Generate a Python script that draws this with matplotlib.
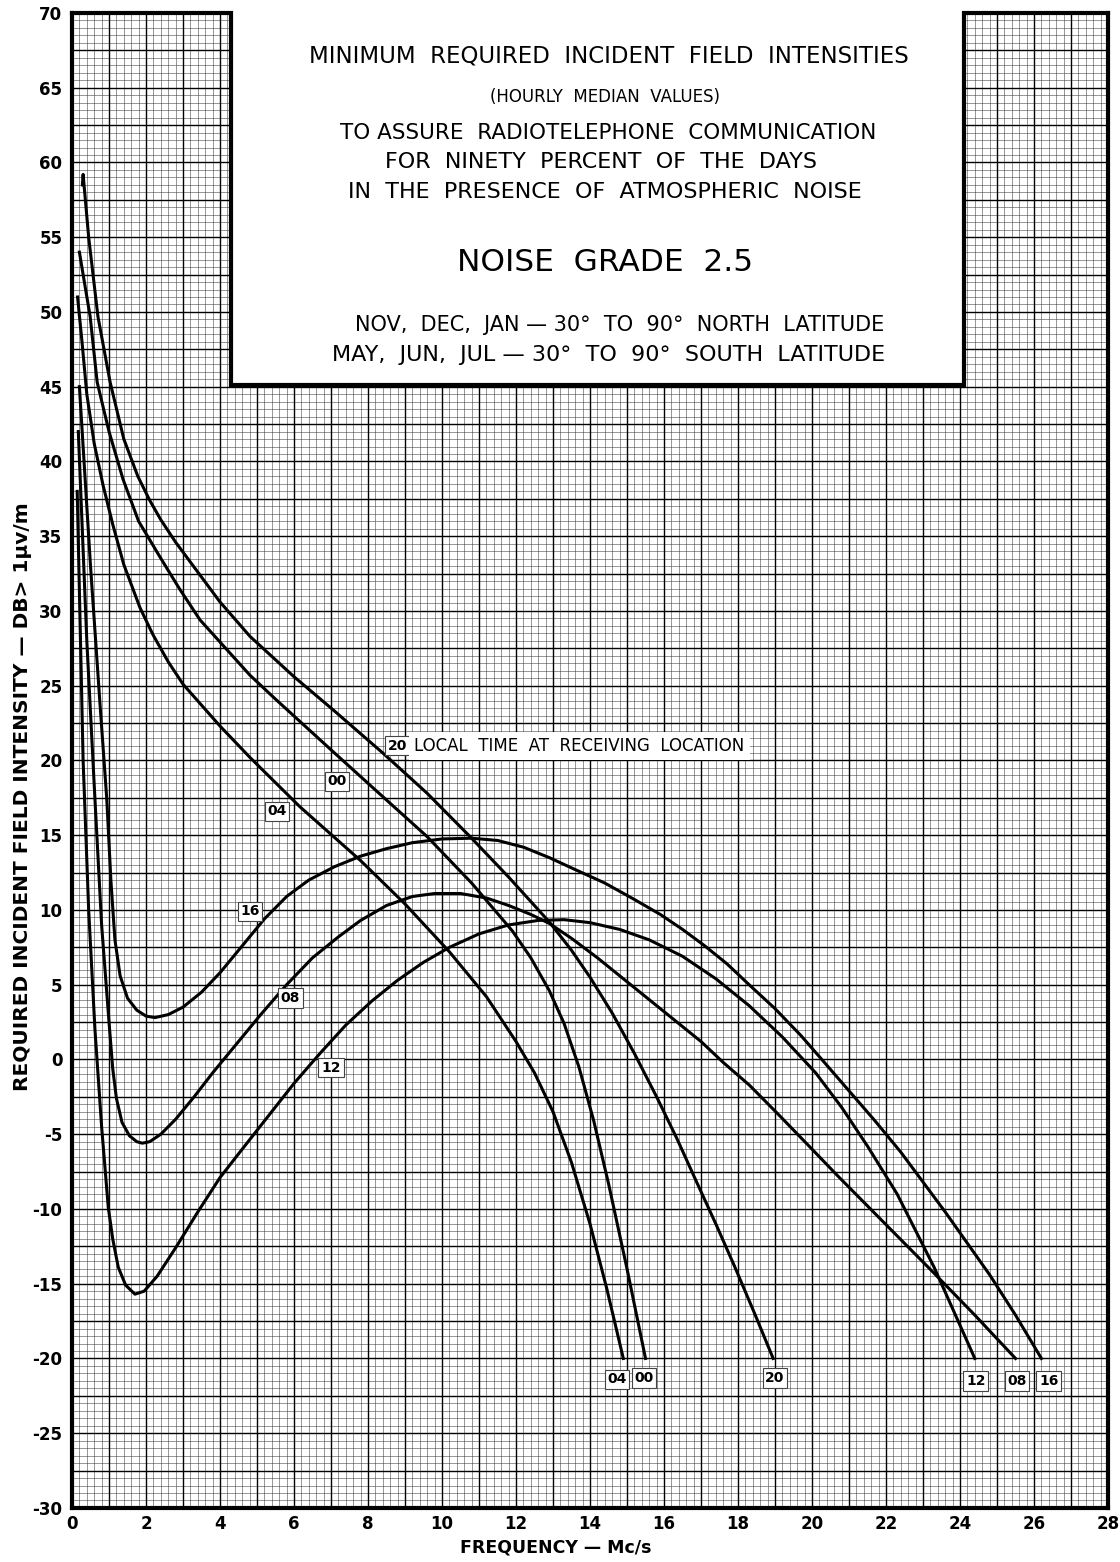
import matplotlib
matplotlib.use("Agg")
import matplotlib.pyplot as plt
from matplotlib.patches import Rectangle
import numpy as np

plt.rcParams["axes.unicode_minus"] = False

# Curve data: frequency (Mc/s) and field (dB > 1 uV/m), by local time
f_20 = [0.28, 0.3, 0.45, 0.7, 1.03, 1.4, 1.78, 2.1, 2.4, 2.8, 3.19, 4.0, 4.81, 6.0, 7.05, 8.4, 9.6, 10.76, 11.8, 12.9, 13.5, 14.0, 14.6, 15.2, 15.8, 16.35, 16.9, 17.4, 17.9, 18.45, 18.95]
e_20 = [58.5, 59.2, 55.0, 49.7, 45.3, 41.5, 39.0, 37.4, 36.1, 34.6, 33.3, 30.6, 28.3, 25.6, 23.4, 20.5, 17.8, 14.9, 12.2, 9.2, 7.3, 5.5, 3.1, 0.4, -2.5, -5.3, -8.3, -11.0, -13.8, -17.0, -20.0]

f_00 = [0.2, 0.3, 0.49, 0.68, 1.0, 1.38, 1.8, 2.38, 2.9, 3.46, 4.81, 5.5, 7.05, 8.3, 9.6, 10.8, 11.9, 12.4, 12.9, 13.3, 13.7, 14.1, 14.5, 15.0, 15.5]
e_00 = [54.0, 52.5, 49.7, 45.3, 42.0, 38.8, 36.0, 33.6, 31.5, 29.4, 25.7, 24.1, 20.6, 17.8, 14.9, 11.8, 8.6, 6.8, 4.6, 2.4, -0.5, -4.1, -8.3, -14.0, -20.0]

f_04 = [0.15, 0.27, 0.4, 0.6, 0.84, 1.1, 1.4, 1.84, 2.19, 2.6, 3.0, 4.0, 4.81, 6.16, 7.8, 9.0, 10.2, 11.2, 12.0, 12.5, 13.0, 13.5, 14.0, 14.45, 14.9]
e_04 = [51.0, 48.0, 44.5, 41.2, 38.4, 35.8, 33.1, 30.2, 28.4, 26.6, 25.1, 22.3, 20.2, 16.9, 13.3, 10.4, 7.2, 4.2, 1.2, -0.9, -3.5, -6.9, -11.0, -15.3, -20.0]

f_16 = [0.2, 0.5, 0.75, 0.94, 1.05, 1.16, 1.3, 1.5, 1.75, 2.0, 2.24, 2.6, 3.0, 3.5, 4.0, 4.6, 5.2, 5.8, 6.4, 7.1, 7.8, 8.5, 9.2, 10.0, 10.8, 11.5, 12.2, 12.9, 13.6, 14.4, 15.2, 15.9, 16.5, 17.1, 17.7, 18.3, 19.0, 19.7, 20.3, 21.0, 21.7, 22.4, 23.0, 23.6, 24.2, 24.8, 25.5, 26.2]
e_16 = [45.0, 33.0, 24.0, 17.4, 12.0, 8.0, 5.6, 4.1, 3.3, 2.9, 2.8, 3.0, 3.5, 4.5, 5.8, 7.6, 9.4, 10.9, 12.0, 12.9, 13.6, 14.1, 14.5, 14.75, 14.8, 14.65, 14.2, 13.5, 12.7, 11.8, 10.7, 9.7, 8.7, 7.6, 6.4, 5.0, 3.4, 1.6, -0.1, -2.1, -4.1, -6.2, -8.2, -10.2, -12.3, -14.4, -17.1, -20.0]

f_08 = [0.17, 0.4, 0.62, 0.8, 1.0, 1.1, 1.2, 1.35, 1.55, 1.75, 1.9, 2.1, 2.4, 2.8, 3.3, 3.8, 4.4, 5.1, 5.8, 6.5, 7.2, 7.8, 8.5, 9.2, 9.8, 10.5, 11.2, 11.8, 12.4, 12.9, 13.5, 14.2, 14.9, 15.6, 16.3, 17.0, 17.6, 18.3, 19.1, 20.0, 20.7, 21.3, 22.3, 23.3, 24.4, 25.5]
e_08 = [42.0, 28.0, 17.4, 9.0, 2.5, -0.6, -2.6, -4.2, -5.1, -5.5, -5.6, -5.5, -5.0, -4.0, -2.5, -0.9, 0.9, 3.0, 5.0, 6.8, 8.2, 9.3, 10.3, 10.9, 11.1, 11.1, 10.8, 10.3, 9.7, 9.1, 8.1, 6.8, 5.4, 4.0, 2.6, 1.2, -0.2, -1.7, -3.7, -6.0, -7.8, -9.3, -11.8, -14.3, -17.1, -20.0]

f_12 = [0.14, 0.3, 0.45, 0.62, 0.8, 0.98, 1.1, 1.25, 1.45, 1.7, 1.95, 2.3, 2.8, 3.4, 4.0, 4.6, 5.3, 6.0, 6.7, 7.4, 8.1, 8.8, 9.5, 10.2, 11.0, 11.8, 12.6, 13.3, 14.0, 14.8, 15.6, 16.5, 17.4, 18.3, 19.2, 20.1, 20.8, 21.5, 22.3, 23.3, 24.4]
e_12 = [38.0, 20.0, 10.0, 2.0, -4.5, -9.9, -12.0, -13.9, -15.1, -15.7, -15.5, -14.5, -12.6, -10.2, -7.9, -6.0, -3.8, -1.6, 0.4, 2.3, 3.9, 5.3, 6.5, 7.5, 8.4, 9.0, 9.3, 9.35, 9.15, 8.7, 8.0, 6.9, 5.4, 3.6, 1.5, -0.9, -3.2, -5.8, -9.0, -13.9, -20.0]

curves = [(f_20, e_20), (f_00, e_00), (f_04, e_04), (f_16, e_16), (f_08, e_08), (f_12, e_12)]

# hour labels on the curves and at the ends
mid_labels = ["20", "00", "04", "16", "08", "12"]
mid_x = [8.8, 7.16, 5.54, 4.81, 5.9, 7.0]
mid_y = [21.0, 18.6, 16.6, 9.9, 4.1, -0.55]
end_labels = ["04", "00", "20", "12", "08", "16"]
end_x = [14.73, 15.46, 19.0, 24.43, 25.54, 26.4]
end_y = [-21.4, -21.3, -21.3, -21.5, -21.5, -21.5]

title_lines = [
    "MINIMUM  REQUIRED  INCIDENT  FIELD  INTENSITIES",
    "(HOURLY  MEDIAN  VALUES)",
    "TO ASSURE  RADIOTELEPHONE  COMMUNICATION",
    "FOR  NINETY  PERCENT  OF  THE  DAYS",
    "IN  THE  PRESENCE  OF  ATMOSPHERIC  NOISE",
    "NOISE  GRADE  2.5",
    "NOV,  DEC,  JAN \u2014 30\u00b0  TO  90\u00b0  NORTH  LATITUDE",
    "MAY,  JUN,  JUL \u2014 30\u00b0  TO  90\u00b0  SOUTH  LATITUDE",
]
title_x = [14.5, 14.4, 14.5, 14.3, 14.4, 14.4, 14.8, 14.5]
title_y = [67.1, 64.4, 62.0, 60.0, 58.0, 53.3, 49.1, 47.1]
title_size = [16.5, 12, 15.5, 16, 16, 22.5, 15, 16]

fig = plt.figure(figsize=(11.2, 15.62), dpi=100)
ax = fig.add_axes([0.0643, 0.0346, 0.9250, 0.9571])
ax.set_xlim(0, 28)
ax.set_ylim(-30, 70)

# graph paper
ax.set_xticks(np.arange(0, 28.1, 2))
ax.set_yticks(np.arange(-30, 70.1, 5))
ax.set_xticks(np.arange(0, 28.01, 0.2), minor=True)
ax.set_yticks(np.arange(-30, 70.01, 0.5), minor=True)
ax.grid(which="minor", color="#333333", linewidth=0.45, alpha=0.8)
for xv in np.arange(1, 28, 1):
    ax.axvline(xv, color="black", linewidth=1.0, zorder=0.6)
for yv in np.arange(-27.5, 70, 2.5):
    ax.axhline(yv, color="black", linewidth=1.0, zorder=0.6)
ax.set_axisbelow(True)
ax.tick_params(which="both", length=0)
ax.tick_params(axis="x", pad=5)
ax.tick_params(axis="y", pad=7)
for lab in ax.get_xticklabels() + ax.get_yticklabels():
    lab.set_fontweight("bold")
    lab.set_fontsize(12)

for side in ["left", "bottom", "right"]:
    ax.spines[side].set_linewidth(3)
ax.spines["top"].set_visible(False)

# white title panel cut out of the paper
box_x0, box_x1, box_y0 = 4.3, 24.1, 45.1
ax.add_patch(Rectangle((box_x0, box_y0), box_x1 - box_x0, 27, facecolor="white",
                       edgecolor="none", zorder=2, clip_on=False))
ax.plot([0, box_x0, box_x0, box_x1, box_x1, 28], [70, 70, box_y0, box_y0, 70, 70],
        color="black", linewidth=3, zorder=2.5, clip_on=False, solid_joinstyle="miter")

for line, xx, yy, fs in zip(title_lines, title_x, title_y, title_size):
    ax.text(xx, yy, line, ha="center", va="center", fontsize=fs, zorder=3)

for fx, ey in curves:
    ax.plot(fx, ey, color="black", linewidth=2.2, zorder=3, solid_joinstyle="round")

box = dict(boxstyle="square,pad=0.2", facecolor="white", edgecolor="#444444", linewidth=0.8)
for lab, xx, yy in zip(mid_labels, mid_x, mid_y):
    ax.text(xx, yy, lab, ha="center", va="center", fontsize=10, fontweight="bold",
            bbox=box, zorder=4)
ax.text(9.25, 21.0, "LOCAL  TIME  AT  RECEIVING  LOCATION", ha="left", va="center",
        fontsize=12, bbox=dict(boxstyle="square,pad=0.3", facecolor="white", edgecolor="none"),
        zorder=4)
for lab, xx, yy in zip(end_labels, end_x, end_y):
    ax.text(xx, yy, lab, ha="center", va="center", fontsize=10, fontweight="bold",
            bbox=box, zorder=4)

fig.text(0.020, 0.49, "REQUIRED INCIDENT FIELD INTENSITY \u2014 DB> 1\u03bcv/m", rotation=90,
         ha="center", va="center", fontsize=14.5, fontweight="bold")
fig.text(0.496, 0.009, "FREQUENCY \u2014 Mc/s", ha="center", va="center",
         fontsize=12.5, fontweight="bold")

fig.savefig("out.png", dpi=100)
